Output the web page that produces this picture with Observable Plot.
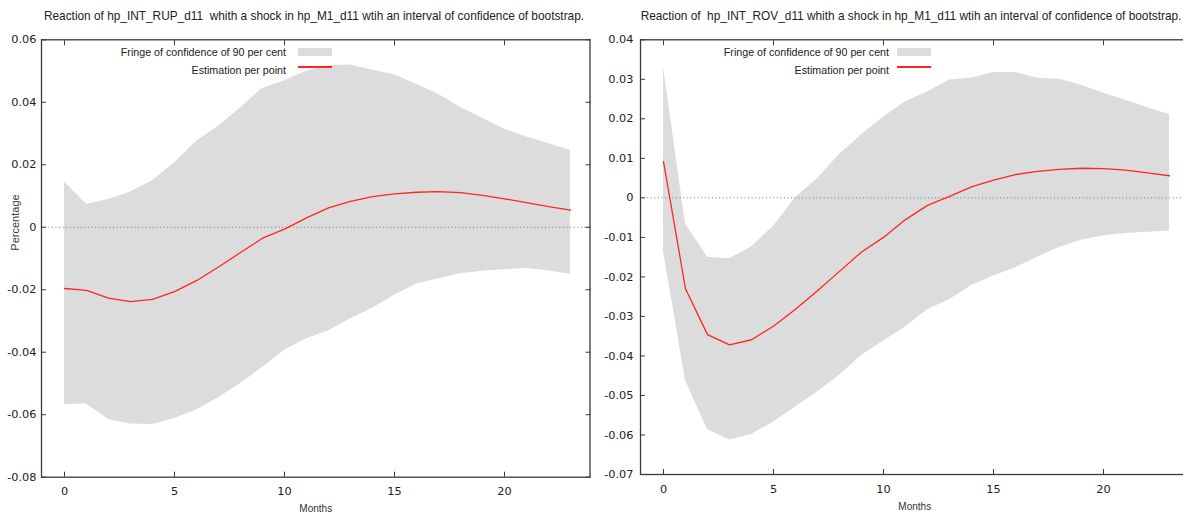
<!DOCTYPE html>
<html><head><meta charset="utf-8">
<script src="https://cdn.jsdelivr.net/npm/d3@7"></script>
<script src="https://cdn.jsdelivr.net/npm/@observablehq/plot@0.6"></script>
<style>
html,body{margin:0;padding:0;background:#fff;}
body{width:1183px;height:514px;overflow:hidden;position:relative;font-family:"Liberation Sans",Arial,sans-serif;}
.title{position:absolute;top:8px;width:600px;text-align:center;white-space:pre;font-size:11.85px;color:#222;line-height:16px;}
.plot{position:absolute;top:28px;}
.leg{position:absolute;white-space:pre;font-size:10.7px;color:#222;text-align:right;line-height:12px;}
.sw{position:absolute;}
</style></head><body>
<script>
const months = [0,1,2,3,4,5,6,7,8,9,10,11,12,13,14,15,16,17,18,19,20,21,22,23];

const rupEstimate = [-0.0196,-0.0202,-0.0227,-0.0238,-0.0231,-0.0206,-0.0171,-0.0127,-0.0081,-0.0035,-0.0006,0.0030,0.0062,0.0083,0.0098,0.0107,0.0112,0.0114,0.0111,0.0102,0.0091,0.0079,0.0066,0.0055];
const rupUpper = [0.0145,0.0074,0.0089,0.0113,0.0149,0.0206,0.0275,0.0323,0.0382,0.0444,0.0469,0.0499,0.0517,0.0519,0.0503,0.0488,0.0458,0.0426,0.0383,0.0349,0.0314,0.0289,0.0268,0.0246];
const rupLower = [-0.0567,-0.0566,-0.0615,-0.0630,-0.0631,-0.0612,-0.0585,-0.0546,-0.0500,-0.0449,-0.0394,-0.0357,-0.0331,-0.0293,-0.0259,-0.0218,-0.0182,-0.0165,-0.0149,-0.0141,-0.0136,-0.0132,-0.0139,-0.0151];

const rovEstimate = [0.0092,-0.0230,-0.0346,-0.0372,-0.0359,-0.0325,-0.0282,-0.0235,-0.0186,-0.0137,-0.0100,-0.0055,-0.0019,0.0004,0.0028,0.0045,0.0059,0.0067,0.0072,0.0075,0.0074,0.0070,0.0063,0.0056];
const rovUpper = [0.0331,-0.0066,-0.0150,-0.0154,-0.0124,-0.0072,0.0000,0.0049,0.0110,0.0160,0.0204,0.0243,0.0268,0.0298,0.0303,0.0317,0.0317,0.0303,0.0300,0.0285,0.0265,0.0247,0.0228,0.0211];
const rovLower = [-0.0135,-0.0462,-0.0586,-0.0613,-0.0599,-0.0567,-0.0529,-0.0491,-0.0449,-0.0399,-0.0362,-0.0327,-0.0283,-0.0258,-0.0222,-0.0198,-0.0177,-0.0150,-0.0125,-0.0107,-0.0096,-0.0090,-0.0087,-0.0084];

const xTicks = [0,5,10,15,20];
const xTickLabels = ["0","5","10","15","20"];
const rupYTicks = [-0.08,-0.06,-0.04,-0.02,0,0.02,0.04,0.06];
const rupYTickLabels = ["-0.08","-0.06","-0.04","-0.02","0","0.02","0.04","0.06"];
const rovYTicks = [-0.07,-0.06,-0.05,-0.04,-0.03,-0.02,-0.01,0,0.01,0.02,0.03,0.04];
const rovYTickLabels = ["-0.07","-0.06","-0.05","-0.04","-0.03","-0.02","-0.01","0","0.01","0.02","0.03","0.04"];

const titles = [
  "Reaction of hp_INT_RUP_d11  whith a shock in hp_M1_d11 wtih an interval of confidence of bootstrap.",
  "Reaction of  hp_INT_ROV_d11 whith a shock in hp_M1_d11 wtih an interval of confidence of bootstrap."
];
const legendLabels = ["Fringe of confidence of 90 per cent", "Estimation per point"];
const xLabel = "Months";
const yLabel = "Percentage";

const bandColor = "#dcdcdc";
const lineColor = "#ff2525";

function makePanel(cfg) {
  const data = months.map((m, i) => ({m, est: cfg.est[i], hi: cfg.up[i], lo: cfg.lo[i]}));
  const fx = d => xTickLabels[xTicks.indexOf(d)];
  const fy = d => cfg.yLabels[cfg.yTicks.indexOf(d)];
  const marks = [
    Plot.areaY(data, {x: "m", y1: "lo", y2: "hi", fill: bandColor}),
    Plot.ruleY([0], {stroke: "#777", strokeDasharray: "1,2.6", strokeWidth: 1}),
    Plot.lineY(data, {x: "m", y: "est", stroke: lineColor, strokeWidth: 1.3}),
    Plot.frame({stroke: "#3a3a3a", strokeWidth: 1.3}),
    Plot.axisX(xTicks, {anchor: "bottom", tickSize: 5, dy: -5, fill: "none", stroke: "#3a3a3a", label: null}),
    Plot.axisX(xTicks, {anchor: "top", tickSize: 5, dy: 5, fill: "none", stroke: "#3a3a3a", label: null}),
    Plot.axisY(cfg.yTicks, {anchor: "left", tickSize: 5, dx: 5, fill: "none", stroke: "#3a3a3a", label: null}),
    Plot.axisY(cfg.yTicks, {anchor: "right", tickSize: 5, dx: -5, fill: "none", stroke: "#3a3a3a", label: null}),
    Plot.axisX(xTicks, {anchor: "bottom", tickSize: 0, tickPadding: 10, tickFormat: fx, fill: "#222", label: null}),
    Plot.axisY(cfg.yTicks, {anchor: "left", tickSize: 0, tickPadding: cfg.yPad, tickFormat: fy, fill: "#222", label: null}),
    Plot.text([xLabel], {frameAnchor: "bottom", dy: 32, lineAnchor: "middle", textAnchor: "middle", fontFamily: "Liberation Sans", fontSize: 10, fill: "#333"})
  ];
  if (cfg.showYLabel) {
    marks.push(Plot.text([yLabel], {frameAnchor: "left", dx: -26, dy: -36, rotate: -90, textAnchor: "middle", lineAnchor: "middle", fontFamily: "Liberation Sans", fontSize: 11, fill: "#3a3a3a"}));
  }
  const svg = Plot.plot({
    width: cfg.width, height: 486,
    marginLeft: 41, marginRight: cfg.marginRight, marginTop: cfg.marginTop, marginBottom: cfg.marginBottom,
    x: {domain: [-1.045, 23.886]},
    y: {domain: cfg.yDomain},
    style: {background: "transparent", fontFamily: "DejaVu Sans", fontSize: "11.3px", color: "#222", overflow: "visible"},
    marks
  });
  svg.classList.add("plot");
  svg.style.position = "absolute";
  svg.style.left = cfg.left + "px";
  svg.style.top = "28px";
  document.body.appendChild(svg);

  const t = document.createElement("div");
  t.className = "title";
  t.style.left = cfg.titleLeft + "px";
  t.textContent = cfg.title;
  document.body.appendChild(t);

  const l1 = document.createElement("div");
  l1.className = "leg";
  l1.style.left = (cfg.legRight - 300) + "px"; l1.style.width = "300px"; l1.style.top = "45.5px";
  l1.textContent = legendLabels[0];
  document.body.appendChild(l1);
  const l2 = document.createElement("div");
  l2.className = "leg";
  l2.style.left = (cfg.legRight - 300) + "px"; l2.style.width = "300px"; l2.style.top = "63.5px";
  l2.textContent = legendLabels[1];
  document.body.appendChild(l2);
  const s1 = document.createElement("div");
  s1.className = "sw";
  Object.assign(s1.style, {left: cfg.swLeft + "px", top: "48px", width: "34px", height: "8px", background: bandColor});
  document.body.appendChild(s1);
  const s2 = document.createElement("div");
  s2.className = "sw";
  Object.assign(s2.style, {left: cfg.swLeft + "px", top: "66px", width: "34px", height: "1.5px", background: lineColor});
  document.body.appendChild(s2);
}

makePanel({est: rupEstimate, up: rupUpper, lo: rupLower, yDomain: [-0.08, 0.06], yTicks: rupYTicks, yLabels: rupYTickLabels,
  width: 595, left: 0, marginRight: 5.5, marginTop: 11.3, marginBottom: 37.3, yPad: 5, showYLabel: true,
  title: titles[0], titleLeft: 14, legRight: 286, swLeft: 298});
makePanel({est: rovEstimate, up: rovUpper, lo: rovLower, yDomain: [-0.07, 0.04], yTicks: rovYTicks, yLabels: rovYTickLabels,
  width: 600, left: 599, marginRight: 10.5, marginTop: 11.3, marginBottom: 40, yPad: 7, showYLabel: false,
  title: titles[1], titleLeft: 611, legRight: 889, swLeft: 897});
</script>
</body></html>
